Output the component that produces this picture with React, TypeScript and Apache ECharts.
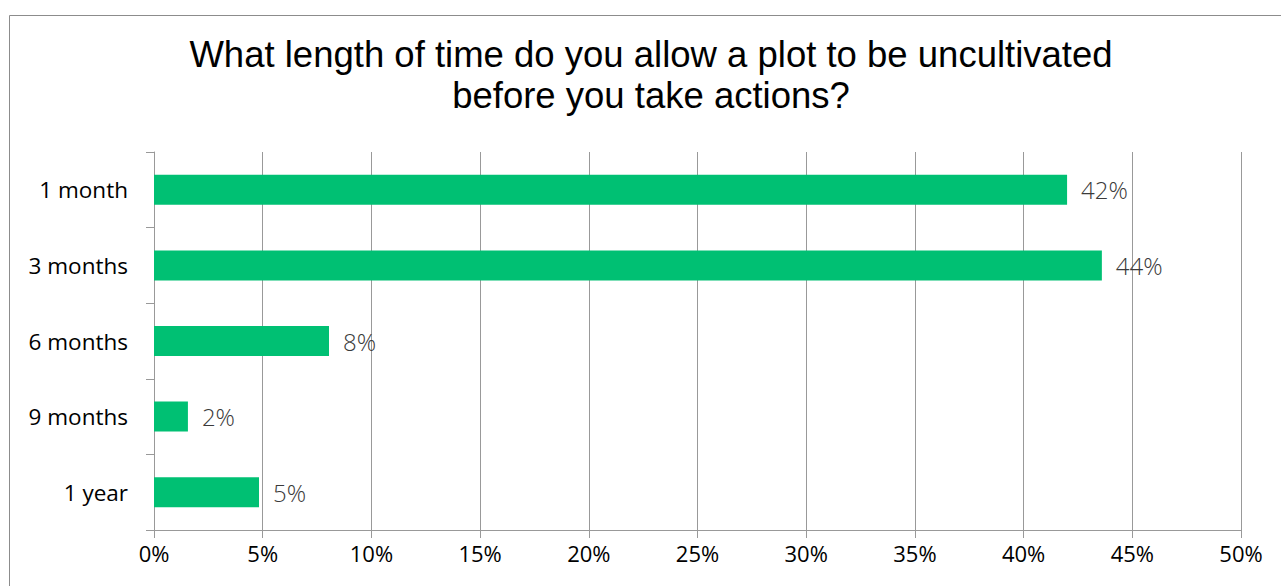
import React, { useEffect, useRef } from "react";
import * as echarts from "echarts";

const categories = ["1 month", "3 months", "6 months", "9 months", "1 year"];
const values = [0.42, 0.436, 0.0805, 0.0156, 0.0483];
const titleLines = ["What length of time do you allow a plot to be uncultivated", "before you take actions?"];

export default function App() {
  const ref = useRef<HTMLDivElement>(null);
  useEffect(() => {
    document.body.style.margin = "0";
    const chart = echarts.init(ref.current!, null, { renderer: "svg" });
    const titleStyle = {
      fontFamily: "Liberation Sans",
      fontSize: 36.5,
      fontWeight: "normal",
      color: "#000",
      lineHeight: 41,
    };
    chart.setOption({
      animation: false,
      backgroundColor: "#ffffff",
      title: titleLines.map((t, i) => ({
        text: t,
        left: 651,
        top: 34 + i * 41,
        textAlign: "center",
        padding: 0,
        textStyle: titleStyle,
      })),
      graphic: [
        {
          type: "rect",
          shape: { x: 9.5, y: 15.5, width: 1300, height: 600 },
          style: { fill: "none", stroke: "#8c8c8c", lineWidth: 1 },
          silent: true,
        },
      ],
      grid: { left: 154, right: 40, top: 152, bottom: 56, containLabel: false },
      xAxis: {
        type: "value",
        min: 0,
        max: 0.5,
        interval: 0.05,
        axisLine: { show: true, lineStyle: { color: "#999" } },
        axisTick: { show: true, length: 8, lineStyle: { color: "#999" } },
        splitLine: { show: true, lineStyle: { color: "#999" } },
        axisLabel: {
          formatter: (v: number) => Math.round(v * 100) + "%",
          fontFamily: "Open Sans",
          fontSize: 22,
          color: "#000",
          margin: 12,
        },
      },
      yAxis: {
        type: "category",
        data: categories,
        inverse: true,
        axisLine: { show: true, lineStyle: { color: "#999" } },
        axisTick: { show: true, length: 8, lineStyle: { color: "#999" } },
        axisLabel: {
          fontFamily: "Open Sans",
          fontSize: 22.5,
          color: "#000",
          margin: 26,
        },
      },
      series: [
        {
          type: "bar",
          data: values,
          barWidth: 30,
          itemStyle: { color: "#00c073" },
          label: {
            show: true,
            position: "right",
            distance: 14,
            formatter: (p: any) => Math.round(p.value * 100) + "%",
            fontFamily: "Open Sans",
            fontWeight: 300,
            fontSize: 24,
            color: "#3a3a3a",
          },
        },
      ],
    });
    return () => chart.dispose();
  }, []);
  return <div ref={ref} style={{ position: "absolute", left: 0, top: 0, width: 1281, height: 586 }} />;
}
